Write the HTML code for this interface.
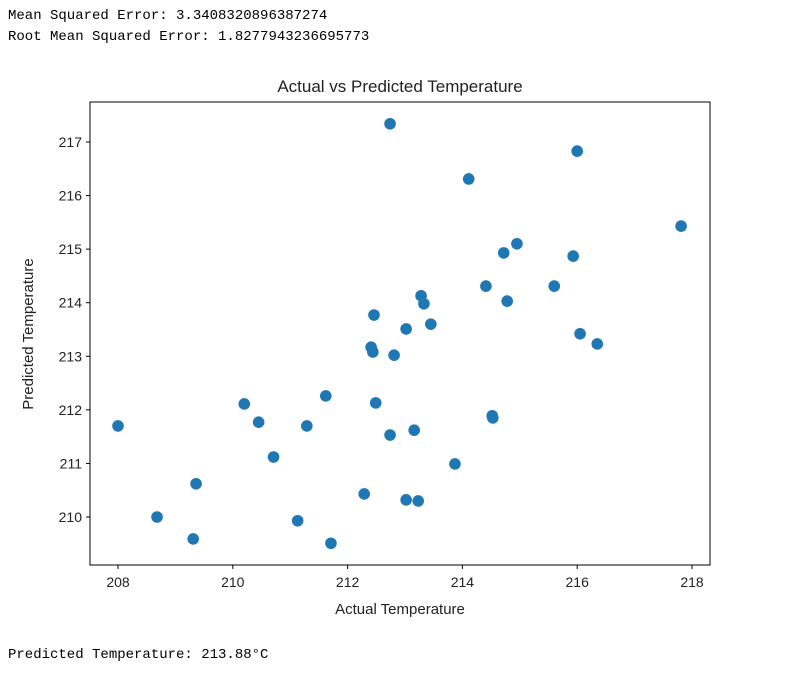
<!DOCTYPE html>
<html><head><meta charset="utf-8"><style>
body{margin:0;background:#fff;width:790px;height:675px;overflow:hidden;position:relative}
.mono{position:absolute;left:8px;font-family:"Liberation Mono",monospace;font-size:14px;color:#000;white-space:pre}
</style></head><body>
<div class="mono" style="top:8px">Mean Squared Error: 3.3408320896387274</div>
<div class="mono" style="top:29px">Root Mean Squared Error: 1.8277943236695773</div>
<svg id="chart" width="790" height="675" style="position:absolute;left:0;top:0"></svg>
<div class="mono" style="top:647px">Predicted Temperature: 213.88°C</div>
<script>
const actual=[208.00,208.68,209.31,209.36,210.20,210.45,210.71,211.13,211.29,211.62,211.71,212.29,212.41,212.44,212.46,212.49,212.74,212.74,212.81,213.02,213.02,213.16,213.23,213.28,213.33,213.45,213.87,214.11,214.41,214.52,214.53,214.72,214.78,214.95,215.60,215.93,216.00,216.05,216.35,217.81];
const predicted=[211.70,210.00,209.59,210.62,212.11,211.77,211.12,209.93,211.70,212.26,209.51,210.43,213.17,213.08,213.77,212.13,217.34,211.53,213.02,210.32,213.51,211.62,210.30,214.13,213.98,213.60,210.99,216.31,214.31,211.89,211.85,214.93,214.03,215.10,214.31,214.87,216.83,213.42,213.23,215.43];
const xTicks=[208,210,212,214,216,218];
const yTicks=[210,211,212,213,214,215,216,217];
const NS="http://www.w3.org/2000/svg";
const svg=document.getElementById('chart');
const L=90,R=710,T=102,B=565;
function sx(v){return 118+(v-208)*57.4;}
function sy(v){return 142+(217-v)*53.57;}
function mk(tag,attrs,text){const e=document.createElementNS(NS,tag);for(const k in attrs)e.setAttribute(k,attrs[k]);if(text!==undefined)e.textContent=text;svg.appendChild(e);return e;}
const font='"Liberation Sans","DejaVu Sans",sans-serif';
actual.forEach((a,i)=>{
  const c=mk('circle',{cx:sx(a),cy:sy(predicted[i]),r:5.8,fill:'#1f77b4'});
  
  
});
const frame=mk('rect',{x:L,y:T,width:R-L,height:B-T,fill:'none',stroke:'#000','stroke-width':1});


xTicks.forEach(t=>{
  const x=sx(t);
  mk('line',{x1:x,x2:x,y1:B,y2:B+4,stroke:'#000'});
  const tx=mk('text',{x:x,y:B+22,'text-anchor':'middle','font-family':font,'font-size':14,fill:'#222'},t);
  
  
});
yTicks.forEach(t=>{
  const y=sy(t);
  mk('line',{x1:L-4,x2:L,y1:y,y2:y,stroke:'#000'});
  const tx=mk('text',{x:L-8,y:y+5,'text-anchor':'end','font-family':font,'font-size':14,fill:'#222'},t);
  
  
});
const title=mk('text',{x:(L+R)/2,y:92,'text-anchor':'middle','font-family':font,'font-size':17,fill:'#222'},'Actual vs Predicted Temperature');


const xl=mk('text',{x:(L+R)/2,y:614,'text-anchor':'middle','font-family':font,'font-size':15,fill:'#222'},'Actual Temperature');


const yl=mk('text',{x:0,y:0,'text-anchor':'middle','font-family':font,'font-size':15,fill:'#222',transform:'translate(33,334) rotate(-90)'},'Predicted Temperature');


</script>
</body></html>
